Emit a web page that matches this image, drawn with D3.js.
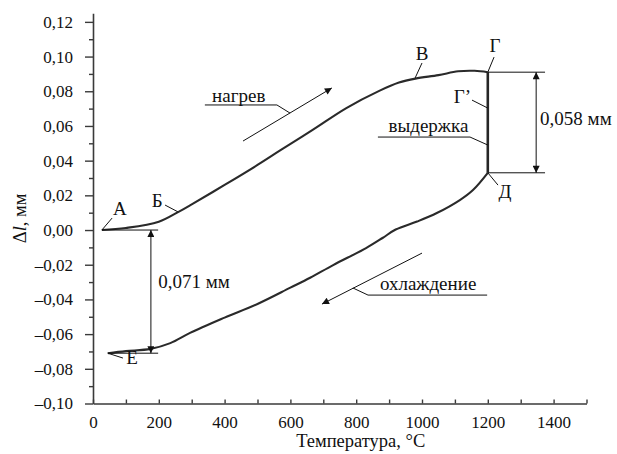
<!DOCTYPE html>
<html>
<head>
<meta charset="utf-8">
<script src="https://cdn.jsdelivr.net/npm/d3@7"></script>
<style>
  body { margin: 0; background: #fff; }
  svg { display: block; }
  svg text { font-family: "Liberation Serif", "Times New Roman", serif; }
</style>
</head>
<body>
<svg id="chart" width="617" height="454"></svg>
<script>
// Heating branch: temperature, °C and elongation ΔL, mm
const heatingT  = [27, 100, 200, 260, 300, 400, 500, 570, 670, 770, 870, 930, 980, 1050, 1110, 1160, 1200];
const heatingDL = [0, 0.0012, 0.0048, 0.0105, 0.0148, 0.026, 0.0375, 0.046, 0.058, 0.0703, 0.0802, 0.085, 0.0873, 0.0893, 0.0915, 0.0918, 0.091];

// Isothermal hold at 1200 °C (Г → Д)
const holdT  = [1200, 1200];
const holdDL = [0.091, 0.033];

// Cooling branch (Д → Е)
const coolingT  = [1200, 1155, 1115, 1045, 985, 920, 880, 830, 730, 660, 600, 500, 400, 295, 235, 175, 100, 45];
const coolingDL = [0.033, 0.0231, 0.0173, 0.0098, 0.0049, 0.0003, -0.0046, -0.0104, -0.0202, -0.0275, -0.0332, -0.0426, -0.0505, -0.0593, -0.0652, -0.0685, -0.0698, -0.071];

// Shrinkage during the hold and residual shrinkage, mm
const holdShrink = 0.058;
const residualShrink = 0.071;

// Axis ticks
const xMajor = [0, 200, 400, 600, 800, 1000, 1200, 1400];
const xMajorLabels = ["0", "200", "400", "600", "800", "1000", "1200", "1400"];
const xMinor = [100, 300, 500, 700, 900, 1100, 1300, 1500];
const yMajor = [-0.10, -0.08, -0.06, -0.04, -0.02, 0, 0.02, 0.04, 0.06, 0.08, 0.10, 0.12];
const yMajorLabels = ["–0,10", "–0,08", "–0,06", "–0,04", "–0,02", "0,00", "0,02", "0,04", "0,06", "0,08", "0,10", "0,12"];
const yMinor = [-0.09, -0.07, -0.05, -0.03, -0.01, 0.01, 0.03, 0.05, 0.07, 0.09, 0.11];

const serif = "'Liberation Serif', 'Times New Roman', serif";
const svg = d3.select("#chart");
const x = d3.scaleLinear().domain([0, 1500]).range([93, 586.5]);
const y = d3.scaleLinear().domain([-0.10, 0.125]).range([403.5, 13.2]);

const ink = "#111";
const axisInk = "#3a3a3a";

// Arrowhead marker
svg.append("defs").append("marker")
  .attr("id", "head")
  .attr("viewBox", "0 0 10 10")
  .attr("refX", 10).attr("refY", 5)
  .attr("markerWidth", 10).attr("markerHeight", 7)
  .attr("markerUnits", "userSpaceOnUse")
  .attr("orient", "auto-start-reverse")
  .append("path").attr("d", "M0,0 L10,5 L0,10 z").attr("fill", ink);

// ---- Axes ----
const gx = svg.append("g").attr("transform", `translate(0,${y(-0.10)})`);
gx.call(d3.axisBottom(x).tickValues(xMajor).tickFormat((d, i) => xMajorLabels[i])
  .tickSizeInner(-4).tickSizeOuter(0).tickPadding(12));
const gxm = svg.append("g").attr("transform", `translate(0,${y(-0.10)})`);
gxm.call(d3.axisBottom(x).tickValues(xMinor).tickFormat(() => "").tickSizeInner(-4).tickSizeOuter(0));
gxm.select(".domain").remove();

const gy = svg.append("g").attr("transform", `translate(${x(0)},0)`);
gy.call(d3.axisLeft(y).tickValues(yMajor).tickFormat((d, i) => yMajorLabels[i])
  .tickSizeInner(8).tickSizeOuter(0).tickPadding(12));
const gym = svg.append("g").attr("transform", `translate(${x(0)},0)`);
gym.call(d3.axisLeft(y).tickValues(yMinor).tickFormat(() => "").tickSizeInner(4).tickSizeOuter(0));
gym.select(".domain").remove();

[gx, gxm, gy, gym].forEach(g => g.attr("font-family", serif));
svg.selectAll(".domain").attr("stroke", axisInk).attr("stroke-width", 1.6);
svg.selectAll(".tick line").attr("stroke", axisInk).attr("stroke-width", 1.4);
svg.selectAll(".tick text")
  .attr("font-family", serif)
  .attr("font-size", 17).attr("fill", ink);

// Axis titles
svg.append("text")
  .attr("x", (x(0) + x(1500)) / 2 + 21).attr("y", 447)
  .attr("text-anchor", "middle").attr("font-size", 18.5).attr("fill", ink)
  .attr("font-family", serif)
  .text("Температура, °С");

const yt = svg.append("text")
  .attr("transform", `translate(26,${(y(0) + y(0.01)) / 2 - 3}) rotate(-90)`)
  .attr("text-anchor", "middle").attr("font-size", 18.5).attr("fill", ink)
  .attr("font-family", serif);
yt.append("tspan").text("Δ");
yt.append("tspan").attr("font-style", "italic").text("l");
yt.append("tspan").text(", мм");

// ---- Curves ----
const line = d3.line().x(d => x(d[0])).y(d => y(d[1])).curve(d3.curveCatmullRom.alpha(0.5));
const heating = heatingT.map((t, i) => [t, heatingDL[i]]);
const hold = holdT.map((t, i) => [t, holdDL[i]]);
const cooling = coolingT.map((t, i) => [t, coolingDL[i]]);

svg.append("path").datum(heating).attr("d", line)
  .attr("fill", "none").attr("stroke", "#2a2a2a").attr("stroke-width", 2.1);
svg.append("path").datum(cooling).attr("d", line)
  .attr("fill", "none").attr("stroke", "#2a2a2a").attr("stroke-width", 2.1);
svg.append("path").datum(hold).attr("d", d3.line().x(d => x(d[0])).y(d => y(d[1])))
  .attr("fill", "none").attr("stroke", "#262626").attr("stroke-width", 2.6);

// ---- Annotations (in data units: temperature, ΔL) ----
const gA = svg.append("g").attr("stroke", ink).attr("stroke-width", 1).attr("fill", "none");
const seg = (t0, v0, t1, v1) =>
  gA.append("line").attr("x1", x(t0)).attr("y1", y(v0)).attr("x2", x(t1)).attr("y2", y(v1));

const holdTop = holdDL[0], holdBottom = holdDL[1];
const eLevel = -residualShrink;

// Reference lines for the shrinkage dimensions
seg(heatingT[0], 0, 198, 0);
seg(coolingT[coolingT.length - 1], eLevel, 198, eLevel);
seg(1200, holdTop, 1374, holdTop);
seg(1200, holdBottom, 1374, holdBottom);

// Dimension arrows
seg(176, 0, 176, eLevel).attr("marker-start", "url(#head)").attr("marker-end", "url(#head)");
seg(1347, holdTop, 1347, holdTop - holdShrink).attr("marker-start", "url(#head)").attr("marker-end", "url(#head)");

// Direction arrows
seg(456, 0.0513, 726, 0.0819).attr("marker-end", "url(#head)");
seg(1000, -0.0133, 696, -0.0427).attr("marker-end", "url(#head)");

// Leaders for the point letters
seg(heatingT[0], 0, 58, 0.0069);          // А
seg(258, 0.0105, 219, 0.0144);            // Б
seg(979, 0.0876, 1000, 0.0963);           // В
seg(1200, holdTop, 1219, 0.0997);         // Г
seg(1200, 0.0703, 1152, 0.0749);          // Г’
seg(1200, holdBottom, 1231, 0.0259);      // Д
seg(coolingT[coolingT.length - 1], eLevel, 91, -0.0738); // Е

// Leaders with underlines for the captions
seg(599, 0.0674, 559, 0.0721); seg(559, 0.0721, 340, 0.0721);      // нагрев
seg(790, -0.0334, 836, -0.0375); seg(836, -0.0375, 1198, -0.0375); // охлаждение
seg(1200, 0.049, 1146, 0.0536); seg(1146, 0.0536, 866, 0.0536);    // выдержка

// Texts
const gT = svg.append("g").attr("fill", ink).attr("font-size", 19).attr("font-family", serif);
const label = (t, v, s, anchor) =>
  gT.append("text").attr("x", x(t)).attr("y", y(v)).attr("text-anchor", anchor || "middle")
    .attr("font-family", serif).text(s);

label(82, 0.0086, "А");
label(195, 0.0133, "Б");
label(1000, 0.098, "В");
label(1222, 0.1026, "Г");
label(1149, 0.0732, "Г’", "end");
label(1252, 0.0184, "Д");
label(119, -0.0772, "Е");

label(362, 0.0738, "нагрев", "start");
label(872, -0.0346, "охлаждение", "start");
label(1141, 0.0565, "выдержка", "end");
label(198, -0.0334, residualShrink.toFixed(3).replace(".", ",") + " мм", "start");
label(1359, 0.0605, holdShrink.toFixed(3).replace(".", ",") + " мм", "start");
</script>
</body>
</html>
